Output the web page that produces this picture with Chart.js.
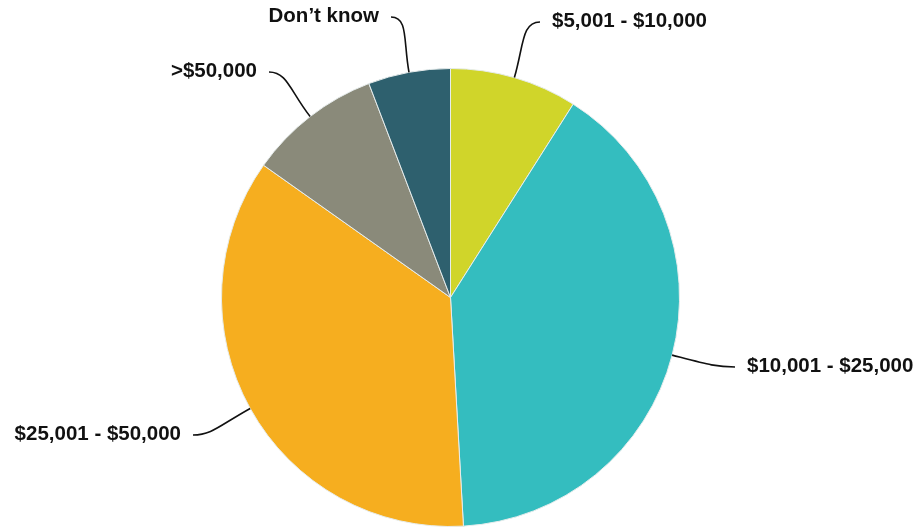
<!DOCTYPE html>
<html>
<head>
<meta charset="utf-8">
<script src="https://cdn.jsdelivr.net/npm/chart.js@4.4.1/dist/chart.umd.min.js"></script>
<style>
	html, body { margin: 0; padding: 0; background: #ffffff; }
	#wrap { width: 921px; height: 529px; }
</style>
</head>
<body>
<div id="wrap"><canvas id="myChart" width="921" height="529"></canvas></div>
<script>
// share of respondents per bracket, clockwise from 12 o'clock
var brackets = ["$5,001 - $10,000", "$10,001 - $25,000", "$25,001 - $50,000", ">$50,000", "Don\u2019t know"];
var shares = [9.0, 40.1, 35.7, 9.4, 5.8];
var sliceColors = ["#D0D52A", "#34BDBF", "#F6AE1F", "#8A8A7A", "#2E606E"];

// where each callout text sits (x, baseline y, side the line comes from)
var calloutPlacement = [
	{x: 552, y: 27, align: "left"},
	{x: 747, y: 372, align: "left"},
	{x: 181, y: 440, align: "right"},
	{x: 257, y: 77, align: "right"},
	{x: 379, y: 22, align: "right"}
];

var calloutFont = "bold 20.5px 'Liberation Sans', Arial, sans-serif";

var calloutPlugin = {
	id: "callouts",
	afterDatasetsDraw: function (chart) {
		var ctx = chart.ctx;
		var arcs = chart.getDatasetMeta(0).data;
		ctx.save();
		ctx.font = calloutFont;
		ctx.fillStyle = "#111111";
		ctx.strokeStyle = "#111111";
		ctx.lineWidth = 1.6;
		ctx.textBaseline = "alphabetic";

		for (var i = 0; i < arcs.length; i++) {
			var arc = arcs[i];
			var p = calloutPlacement[i];
			var mid = (arc.startAngle + arc.endAngle) / 2;
			var cos = Math.cos(mid), sin = Math.sin(mid);
			var sx = arc.x + cos * arc.outerRadius;
			var sy = arc.y + sin * arc.outerRadius;

			var w = ctx.measureText(brackets[i]).width;
			var ex, dir;
			if (p.align == "left") {
				ex = p.x - 12;
				dir = -1;
			} else {
				ex = p.x + 12;
				dir = 1;
			}
			var ey = p.y - 5;
			var dist = Math.hypot(ex - sx, ey - sy);

			ctx.beginPath();
			ctx.moveTo(sx, sy);
			ctx.bezierCurveTo(
				sx + cos * dist * 0.55, sy + sin * dist * 0.55,
				ex + dir * dist * 0.3, ey,
				ex, ey
			);
			ctx.stroke();

			ctx.textAlign = p.align;
			ctx.fillText(brackets[i], p.x, p.y);
		}
		ctx.restore();
	}
};

new Chart("myChart", {
	type: "pie",
	data: {
		labels: brackets,
		datasets: [{
			data: shares,
			backgroundColor: sliceColors,
			borderColor: "#E6ECEC",
			borderWidth: 1
		}]
	},
	options: {
		responsive: false,
		animation: false,
		layout: {
			padding: {top: 68, bottom: 2, left: 200, right: 220}
		},
		plugins: {
			legend: {display: false},
			tooltip: {enabled: false}
		}
	},
	plugins: [calloutPlugin]
});
</script>
</body>
</html>
